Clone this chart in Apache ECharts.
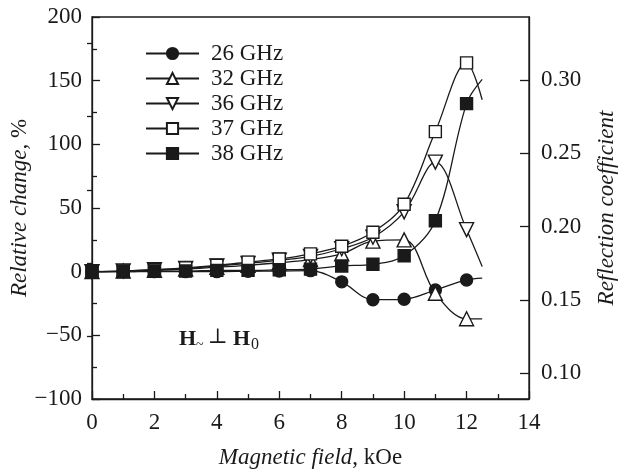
<!DOCTYPE html>
<html>
<head>
<meta charset="utf-8">
<script src="https://cdn.jsdelivr.net/npm/echarts@6/dist/echarts.min.js"></script>
<style>
  html, body { margin: 0; padding: 0; background: #fff; }
  #chart { width: 619px; height: 472px; }
</style>
</head>
<body>
<div id="chart"></div>
<script>
// magnetic field, kOe
const fieldKoe = [0, 1, 2, 3, 4, 5, 6, 7, 8, 9, 10, 11, 12]
// relative change, %
const rel26 = [0, 0, 0, 0, 0, 0.3, 0.5, 0.8, -8, -22, -21.7, -14.4, -6.5]
const rel32 = [0, 0.5, 1, 2, 3.5, 5, 7, 9.5, 14, 24, 25, -17, -37]
const rel36 = [0, 0.5, 1.5, 2.5, 4.5, 6.5, 9, 12, 18, 27, 47, 86, 33]
const rel37 = [0, 0.5, 1.5, 3, 5, 7.5, 10, 14, 20, 31, 53, 110, 164]
const rel38 = [0, 0, 0.5, 0.5, 1, 1, 1.5, 2, 4.5, 5.8, 12.5, 40, 132]
// where each fitted curve ends (no marker)
const tailField = 12.5
const tail26 = -5
const tail32 = -37
const tail36 = 4
const tail37 = 135
const tail38 = 151

const xTicks = [0, 2, 4, 6, 8, 10, 12, 14]
const leftTicks = [-100, -50, 0, 50, 100, 150, 200]
const reflMajor = [0.10, 0.15, 0.20, 0.25, 0.30]
const reflMinor = [0.125, 0.175, 0.225, 0.275, 0.325]

const FONT = 'Liberation Serif'
const FS = 23
const INK = '#1a1a1a'

const buildData = (values, tail) => {
  const pts = fieldKoe.map((x, i) => [x, values[i]])
  pts.push({ value: [tailField, tail], symbol: 'none' })
  return pts
}

const mkSeries = (name, values, tail, symbol, size, filled, rotate) => ({
  name,
  type: 'line',
  smooth: 0.35,
  symbol,
  symbolSize: size,
  symbolRotate: rotate || 0,
  showAllSymbol: true,
  lineStyle: { color: INK, width: 1.3 },
  itemStyle: {
    color: filled ? INK : '#fff',
    borderColor: INK,
    borderWidth: 1.4
  },
  emphasis: { disabled: true },
  data: buildData(values, tail)
})

const chart = echarts.init(document.getElementById('chart'))

const tickStyle = { color: INK, width: 1.3 }

const options = {
  animation: false,
  backgroundColor: '#fff',
  textStyle: { fontFamily: FONT, color: INK },
  grid: {
    left: 92,
    right: 90,
    top: 17,
    bottom: 73,
    outerBoundsMode: 'none',
    show: true,
    borderColor: INK,
    borderWidth: 1.3,
    backgroundColor: 'transparent'
  },
  legend: {
    orient: 'vertical',
    left: 145,
    top: 42,
    padding: 0,
    itemWidth: 53,
    itemHeight: 14,
    itemGap: 2,
    textStyle: { fontFamily: FONT, fontSize: FS, color: INK, lineHeight: 20, padding: [0, 0, 0, 7] },
    data: ['26 GHz', '32 GHz', '36 GHz', '37 GHz', '38 GHz']
  },
  xAxis: {
    type: 'value',
    min: xTicks[0],
    max: xTicks[xTicks.length - 1],
    interval: 2,
    name: '{i|Magnetic field}, kOe',
    nameLocation: 'middle',
    nameGap: 47,
    nameTextStyle: {
      fontFamily: FONT,
      fontSize: FS,
      color: INK,
      rich: { i: { fontFamily: FONT, fontSize: FS, fontStyle: 'italic', color: INK } }
    },
    axisLine: { onZero: false, lineStyle: tickStyle },
    axisTick: { inside: true, length: 8, lineStyle: tickStyle },
    minorTick: { show: true, splitNumber: 2, length: 5, lineStyle: tickStyle },
    axisLabel: { fontFamily: FONT, fontSize: FS, color: INK, margin: 12 },
    splitLine: { show: false }
  },
  yAxis: [
    {
      type: 'value',
      min: leftTicks[0],
      max: leftTicks[leftTicks.length - 1],
      interval: 50,
      name: '{i|Relative change,} %',
      nameLocation: 'middle',
      nameGap: 61,
      nameRotate: 90,
      nameMoveOverlap: false,
      nameTextStyle: {
        fontFamily: FONT,
        fontSize: FS,
        color: INK,
        rich: { i: { fontFamily: FONT, fontSize: FS, fontStyle: 'italic', color: INK } }
      },
      axisLine: { show: true, onZero: false, lineStyle: tickStyle },
      axisTick: { show: true, inside: true, length: 8, lineStyle: tickStyle },
      minorTick: { show: true, splitNumber: 2, length: 5, lineStyle: tickStyle },
      axisLabel: {
        fontFamily: FONT,
        fontSize: FS,
        color: INK,
        margin: 10,
        formatter: v => (v < 0 ? '\u2212' + Math.abs(v) : String(v))
      },
      splitLine: { show: false }
    },
    {
      type: 'value',
      position: 'right',
      min: 0.0825,
      max: 0.343,
      name: 'Reflection coefficient',
      nameLocation: 'middle',
      nameGap: 66,
      nameRotate: 90,
      nameTextStyle: { fontFamily: FONT, fontSize: FS, fontStyle: 'italic', color: INK },
      axisLine: { show: true, onZero: false, lineStyle: tickStyle },
      axisTick: { show: true, inside: true, length: 9, customValues: reflMajor, lineStyle: tickStyle },
      axisLabel: {
        fontFamily: FONT,
        fontSize: FS,
        color: INK,
        margin: 12,
        customValues: reflMajor,
        formatter: v => v.toFixed(2)
      },
      splitLine: { show: false }
    },
    {
      // minor ticks of the right axis
      type: 'value',
      position: 'right',
      min: 0.0825,
      max: 0.343,
      axisLine: { show: false },
      axisTick: { show: true, inside: true, length: 5, customValues: reflMinor, lineStyle: tickStyle },
      axisLabel: { show: false },
      splitLine: { show: false }
    }
  ],
  graphic: [
    { type: 'text', left: 179, top: 328, style: { text: 'H', font: 'bold 22px "Liberation Serif"', fill: INK } },
    { type: 'text', left: 196, top: 338, style: { text: '~', font: '14px "Liberation Serif"', fill: INK } },
    { type: 'text', left: 208, top: 327, style: { text: '\u22a5', font: '21px "DejaVu Serif"', fill: INK } },
    { type: 'text', left: 233, top: 328, style: { text: 'H', font: 'bold 22px "Liberation Serif"', fill: INK } },
    { type: 'text', left: 251, top: 337, style: { text: '0', font: '16px "Liberation Serif"', fill: INK } }
  ],
  series: [
    mkSeries('26 GHz', rel26, tail26, 'circle', 12, true),
    mkSeries('32 GHz', rel32, tail32, 'triangle', 14, false),
    mkSeries('36 GHz', rel36, tail36, 'triangle', 14, false, 180),
    mkSeries('37 GHz', rel37, tail37, 'rect', 12, false),
    mkSeries('38 GHz', rel38, tail38, 'rect', 12, true)
  ]
}

chart.setOption(options)
</script>
</body>
</html>
